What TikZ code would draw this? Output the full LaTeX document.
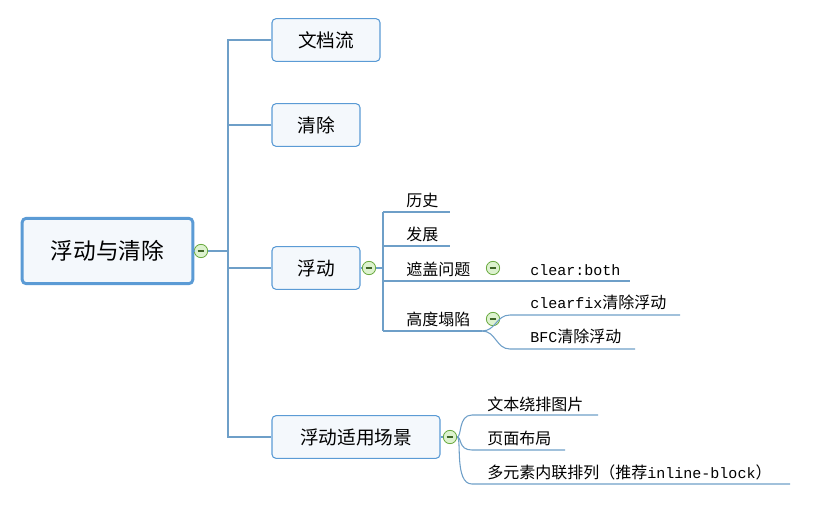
\documentclass[tikz,border=0pt]{standalone}
\usepackage{fontspec}
\setmainfont{Noto Sans CJK SC}
\newfontfamily\monofont[Scale=0.94]{Liberation Mono}
\definecolor{boxline}{HTML}{5B9BD5}
\definecolor{boxfill}{HTML}{F4F8FC}
\definecolor{wire}{HTML}{6E9FC8}
\definecolor{knobfill}{HTML}{DDF2CF}
\definecolor{knobline}{HTML}{6AAA40}
\begin{document}
\begin{tikzpicture}[x=0.75pt,y=-0.75pt,
    wire/.style={draw=wire,line width=0.8pt},
    root node/.style={draw=boxline,line width=2.2pt,fill=boxfill,rounded corners=3pt,
      minimum width=128pt,minimum height=49pt,font=\fontsize{17}{19}\selectfont},
    main node/.style={draw=boxline,line width=0.8pt,fill=boxfill,rounded corners=3pt,
      minimum height=32pt,font=\fontsize{14}{16}\selectfont},
    leaf/.style={anchor=base west,inner sep=0pt,font=\fontsize{12}{14}\selectfont},
    knob/.style={circle,draw=knobline,fill=knobfill,line width=0.6pt,minimum size=10pt,inner sep=0pt,
      path picture={\draw[knobline!60!black,line width=0.8pt] ([xshift=-2.5pt]path picture bounding box.center) -- ([xshift=2.5pt]path picture bounding box.center);}}]
  \useasboundingbox (0,0) rectangle (830,521);
  % root and main branches
  \node[root node] (root) at (107.5,251) {浮动与清除};
  \node[main node,minimum width=81pt] (doc) at (326,40) {文档流};
  \node[main node,minimum width=66pt] (clr) at (316,125) {清除};
  \node[main node,minimum width=66pt] (flt) at (316,268) {浮动};
  \node[main node,minimum width=126pt] (use) at (356,437) {浮动适用场景};
  \node[knob] (k0) at (201,251) {};
  \coordinate (t0) at (228,251);
  \draw[wire] (root) -- (k0) -- (t0);
  \draw[wire] (doc.west) -| (228,251) |- (use.west);
  \draw[wire] (clr.west) -- (clr.west -| t0);
  \draw[wire] (flt.west) -- (flt.west -| t0);
  % floats
  \node[knob] (k1) at (369,268) {};
  \draw[wire] (flt) -- (k1) -- (383,268);
  \draw[wire] (383,212) -- (383,331);
  \node[leaf] (h1) at (406,206) {历史};
  \node[leaf] (h2) at (406,240) {发展};
  \node[leaf] (h3) at (406,275) {遮盖问题};
  \node[leaf] (h4) at (406,325) {高度塌陷};
  \draw[wire] (383,212) -- (450,212);
  \draw[wire] (383,246) -- (450,246);
  \draw[wire] (383,281) -- (630,281);
  \draw[wire] (383,331) -- (482,331);
  \node[knob] (k2) at (493,268) {};
  \node[leaf] (c1) at (530,275) {\monofont clear:both};
  \node[knob] (k3) at (493,319) {};
  \node[leaf] (c2) at (530,308) {{\monofont clearfix}清除浮动};
  \node[leaf] (c3) at (530,342) {{\monofont BFC}清除浮动};
  \draw[wire] (482,331) .. controls (496,331) and (496,315) .. (510,315) -- (680,315);
  \draw[wire] (482,331) .. controls (496,331) and (496,349) .. (510,349) -- (635,349);
  % use cases
  \node[knob] (k4) at (450,437) {};
  \draw[wire] (use) -- (k4);
  \node[leaf] (u1) at (487,410) {文本绕排图片};
  \node[leaf] (u2) at (487,444) {页面布局};
  \node[leaf] (u3) at (487,478) {多元素内联排列（推荐{\monofont inline-block}）};
  \draw[wire] (k4.east) .. controls (462,437) and (458,415) .. (472,415) -- (598,415);
  \draw[wire] (k4.east) .. controls (462,437) and (458,450) .. (472,450) -- (565,450);
  \draw[wire] (k4.east) .. controls (462,437) and (454,484) .. (472,484) -- (790,484);
\end{tikzpicture}
\end{document}
